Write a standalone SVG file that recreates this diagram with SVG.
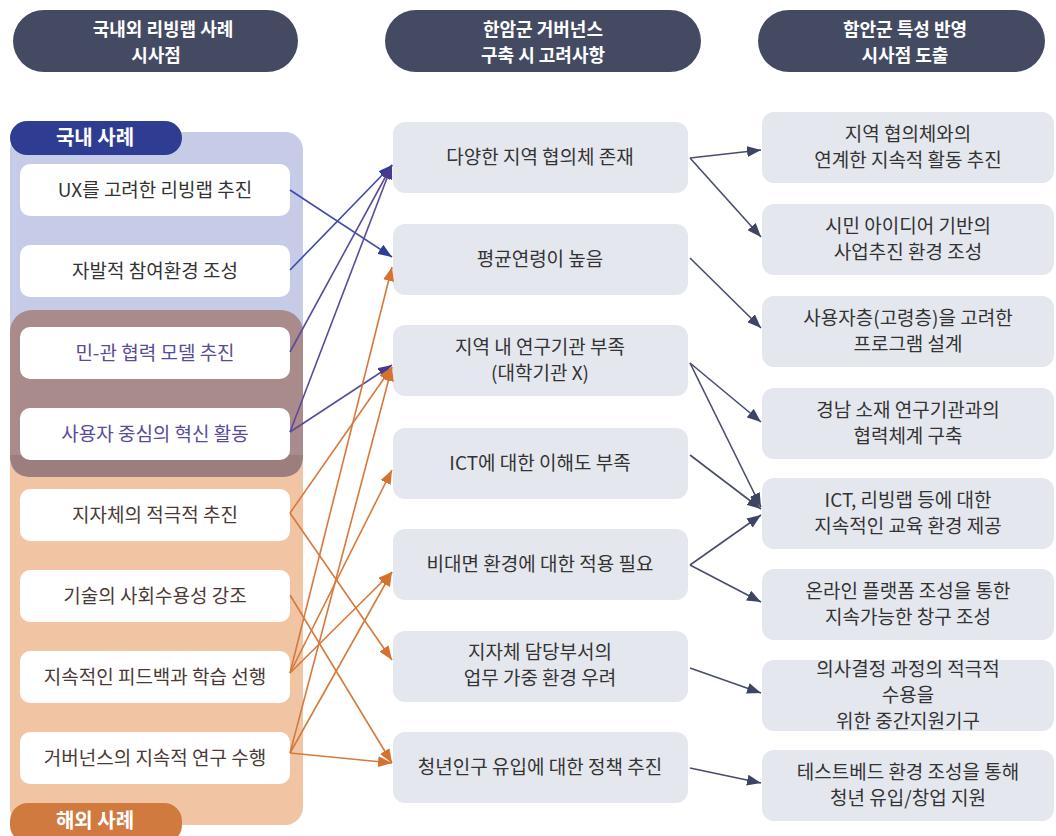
<svg xmlns="http://www.w3.org/2000/svg" width="1056" height="836" viewBox="0 0 1056 836">
<style>
  text { font-family: "Noto Sans CJK KR", "Noto Sans", sans-serif; text-anchor: middle; }
  .hdr { fill: #454a63; }
  .hdrt { fill: #ffffff; font-size: 18px; font-weight: 700; }
  .lbox { fill: #ffffff; }
  .mbox { fill: #e5e7ee; }
  .t { font-size: 19px; fill: #333333; }
  .tp { font-size: 19px; fill: #5a4a9a; }
  .to { font-size: 19px; fill: #4a3a35; }
  .tab { fill: #ffffff; font-size: 20px; font-weight: 700; }
  .cb { stroke: #3d4ca6; stroke-width: 1.6; fill: none; marker-end: url(#ab); }
  .cp { stroke: #5b4b9b; stroke-width: 1.6; fill: none; marker-end: url(#ap); }
  .co { stroke: #d57a3c; stroke-width: 1.6; fill: none; marker-end: url(#ao); }
  .cn { stroke: #474d6b; stroke-width: 1.6; fill: none; marker-end: url(#an); }
</style>
<defs>
  <marker id="ab" markerUnits="userSpaceOnUse" markerWidth="14" markerHeight="11" refX="14" refY="5.5" orient="auto"><path d="M0,0 L14,5.5 L0,11 z" fill="#2f3d9a"/></marker>
  <marker id="ap" markerUnits="userSpaceOnUse" markerWidth="14" markerHeight="11" refX="14" refY="5.5" orient="auto"><path d="M0,0 L14,5.5 L0,11 z" fill="#4a3a8f"/></marker>
  <marker id="ao" markerUnits="userSpaceOnUse" markerWidth="14" markerHeight="11" refX="14" refY="5.5" orient="auto"><path d="M0,0 L14,5.5 L0,11 z" fill="#d4722e"/></marker>
  <marker id="an" markerUnits="userSpaceOnUse" markerWidth="14" markerHeight="11" refX="14" refY="5.5" orient="auto"><path d="M0,0 L14,5.5 L0,11 z" fill="#3e4463"/></marker>
</defs>
<rect width="1056" height="836" fill="#ffffff"/>

<!-- headers -->
<g id="hdr-left"><rect class="hdr" x="13" y="10" width="285" height="62" rx="31"/>
  <text class="hdrt" x="163" y="35.5">국내외 리빙랩 사례</text><text class="hdrt" x="156" y="62">시사점</text></g>
<g id="hdr-mid"><rect class="hdr" x="385" y="10" width="316" height="62" rx="31"/>
  <text class="hdrt" x="543" y="35.5">한암군 거버넌스</text><text class="hdrt" x="543" y="62">구축 시 고려사항</text></g>
<g id="hdr-right"><rect class="hdr" x="758" y="10" width="287" height="62" rx="31"/>
  <text class="hdrt" x="905" y="35.5">함안군 특성 반영</text><text class="hdrt" x="905" y="62">시사점 도출</text></g>

<!-- panels -->
<g id="panel-domestic">
  <rect x="10" y="132" width="293" height="220" rx="18" fill="#c6cbe7"/>
</g>
<g id="panel-overseas">
  <rect x="10" y="440" width="293" height="385" rx="18" fill="#f1c5a4"/>
  <rect x="10" y="440" width="293" height="40" fill="#f1c5a4"/>
</g>
<g id="panel-shared">
  <rect x="10" y="310" width="293" height="167" rx="22" fill="#a98b8b"/>
  <path d="M10,455 L303,455 L303,455 Q303,477 281,477 L32,477 Q10,477 10,455 z" fill="#9c7e7e"/>
</g>
<g id="tab-domestic"><rect x="10" y="121" width="172" height="34" rx="17" fill="#2e3d91"/>
  <text class="tab" x="95" y="145">국내 사례</text></g>
<g id="tab-overseas"><rect x="10" y="803" width="172" height="40" rx="18" fill="#d07a40"/>
  <text class="tab" x="95" y="828">해외 사례</text></g>

<!-- left boxes -->
<g id="l1"><rect class="lbox" x="20" y="164" width="270" height="52" rx="10"/><text class="t" x="155" y="197">UX를 고려한 리빙랩 추진</text></g>
<g id="l2"><rect class="lbox" x="20" y="245" width="270" height="52" rx="10"/><text class="t" x="155" y="278">자발적 참여환경 조성</text></g>
<g id="l3"><rect class="lbox" x="20" y="327" width="270" height="52" rx="10"/><text class="tp" x="155" y="360">민-관 협력 모델 추진</text></g>
<g id="l4"><rect class="lbox" x="20" y="408" width="270" height="52" rx="10"/><text class="tp" x="155" y="441">사용자 중심의 혁신 활동</text></g>
<g id="l5"><rect class="lbox" x="20" y="489" width="270" height="52" rx="10"/><text class="to" x="155" y="522">지자체의 적극적 추진</text></g>
<g id="l6"><rect class="lbox" x="20" y="570" width="270" height="52" rx="10"/><text class="to" x="155" y="603">기술의 사회수용성 강조</text></g>
<g id="l7"><rect class="lbox" x="20" y="651" width="270" height="52" rx="10"/><text class="to" x="155" y="684">지속적인 피드백과 학습 선행</text></g>
<g id="l8"><rect class="lbox" x="20" y="732" width="270" height="52" rx="10"/><text class="to" x="155" y="765">거버넌스의 지속적 연구 수행</text></g>

<!-- middle boxes -->
<g id="m1"><rect class="mbox" x="393" y="122" width="295" height="71" rx="12"/><text class="t" x="540" y="164">다양한 지역 협의체 존재</text></g>
<g id="m2"><rect class="mbox" x="393" y="224" width="295" height="71" rx="12"/><text class="t" x="540" y="266">평균연령이 높음</text></g>
<g id="m3"><rect class="mbox" x="393" y="325" width="295" height="71" rx="12"/><text class="t" x="540" y="354">지역 내 연구기관 부족</text><text class="t" x="540" y="380">(대학기관 X)</text></g>
<g id="m4"><rect class="mbox" x="393" y="428" width="295" height="71" rx="12"/><text class="t" x="540" y="470">ICT에 대한 이해도 부족</text></g>
<g id="m5"><rect class="mbox" x="393" y="529" width="295" height="71" rx="12"/><text class="t" x="540" y="571">비대면 환경에 대한 적용 필요</text></g>
<g id="m6"><rect class="mbox" x="393" y="631" width="295" height="71" rx="12"/><text class="t" x="540" y="659">지자체 담당부서의</text><text class="t" x="540" y="685">업무 가중 환경 우려</text></g>
<g id="m7"><rect class="mbox" x="393" y="732" width="295" height="71" rx="12"/><text class="t" x="540" y="774">청년인구 유입에 대한 정책 추진</text></g>

<!-- right boxes -->
<g id="r1"><rect class="mbox" x="762" y="112" width="292" height="71" rx="12"/><text class="t" x="908" y="141">지역 협의체와의</text><text class="t" x="908" y="167">연계한 지속적 활동 추진</text></g>
<g id="r2"><rect class="mbox" x="762" y="204" width="292" height="71" rx="12"/><text class="t" x="908" y="233">시민 아이디어 기반의</text><text class="t" x="908" y="259">사업추진 환경 조성</text></g>
<g id="r3"><rect class="mbox" x="762" y="296" width="292" height="71" rx="12"/><text class="t" x="908" y="325">사용자층(고령층)을 고려한</text><text class="t" x="908" y="351">프로그램 설계</text></g>
<g id="r4"><rect class="mbox" x="762" y="388" width="292" height="71" rx="12"/><text class="t" x="908" y="417">경남 소재 연구기관과의</text><text class="t" x="908" y="443">협력체계 구축</text></g>
<g id="r5"><rect class="mbox" x="762" y="478" width="292" height="71" rx="12"/><text class="t" x="908" y="507">ICT, 리빙랩 등에 대한</text><text class="t" x="908" y="533">지속적인 교육 환경 제공</text></g>
<g id="r6"><rect class="mbox" x="762" y="569" width="292" height="71" rx="12"/><text class="t" x="908" y="598">온라인 플랫폼 조성을 통한</text><text class="t" x="908" y="624">지속가능한 창구 조성</text></g>
<g id="r7"><rect class="mbox" x="762" y="660" width="292" height="71" rx="12"/><text class="t" x="908" y="676">의사결정 과정의 적극적</text><text class="t" x="908" y="702">수용을</text><text class="t" x="908" y="728">위한 중간지원기구</text></g>
<g id="r8"><rect class="mbox" x="762" y="750" width="292" height="71" rx="12"/><text class="t" x="908" y="779">테스트베드 환경 조성을 통해</text><text class="t" x="908" y="805">청년 유입/창업 지원</text></g>

<!-- connectors -->
<g id="connectors">
  <line class="cb" x1="290" y1="190" x2="392" y2="257"/>
  <line class="cb" x1="290" y1="270" x2="392" y2="165"/>
  <line class="cp" x1="290" y1="352" x2="392" y2="165"/>
  <line class="cp" x1="290" y1="432" x2="392" y2="165"/>
  <line class="cp" x1="290" y1="432" x2="392" y2="365"/>

  <line class="co" x1="290" y1="513" x2="392" y2="367"/>
  <line class="co" x1="290" y1="513" x2="392" y2="660"/>
  <line class="co" x1="290" y1="595" x2="392" y2="763"/>
  <line class="co" x1="290" y1="673" x2="392" y2="267"/>
  <line class="co" x1="290" y1="673" x2="392" y2="470"/>
  <line class="co" x1="290" y1="673" x2="392" y2="572"/>
  <line class="co" x1="290" y1="753" x2="392" y2="367"/>
  <line class="co" x1="290" y1="753" x2="392" y2="572"/>
  <line class="co" x1="290" y1="753" x2="392" y2="763"/>

  <line class="cn" x1="690" y1="158" x2="761" y2="150"/>
  <line class="cn" x1="690" y1="158" x2="761" y2="237"/>
  <line class="cn" x1="690" y1="258" x2="761" y2="328"/>
  <line class="cn" x1="690" y1="363" x2="761" y2="422"/>
  <line class="cn" x1="690" y1="363" x2="761" y2="507"/>
  <line class="cn" x1="690" y1="455" x2="761" y2="509"/>
  <line class="cn" x1="690" y1="565" x2="761" y2="515"/>
  <line class="cn" x1="690" y1="565" x2="761" y2="602"/>
  <line class="cn" x1="690" y1="668" x2="761" y2="693"/>
  <line class="cn" x1="690" y1="768" x2="761" y2="783"/>
</g>
</svg>
